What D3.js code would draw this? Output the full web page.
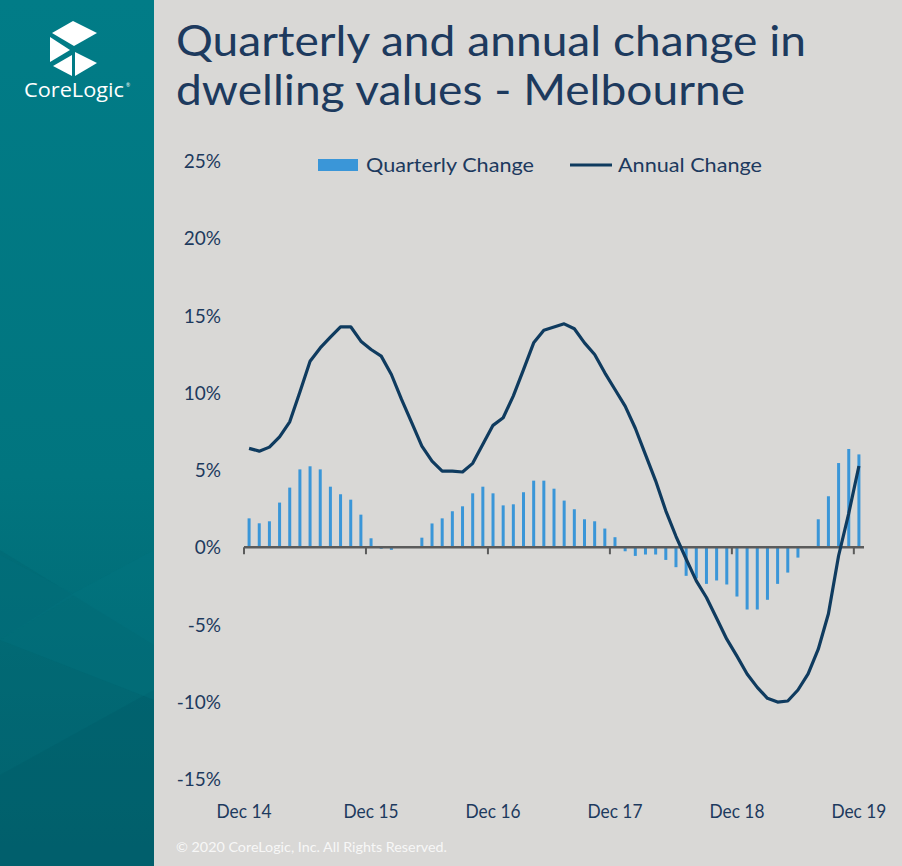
<!DOCTYPE html>
<html>
<head>
<meta charset="utf-8">
<script src="https://cdn.jsdelivr.net/npm/d3@7"></script>
<style>
  html, body { margin: 0; padding: 0; background: #d9d8d6; }
  svg { display: block; }
</style>
</head>
<body>
<svg id="chart" width="902" height="866"></svg>
<script>
// ---------- data ----------
const categories = d3.range(61).map(i => {
  const m = ["Dec","Jan","Feb","Mar","Apr","May","Jun","Jul","Aug","Sep","Oct","Nov"][i % 12];
  const y = 14 + Math.floor((i + 11) / 12);
  return m + " " + y;
});
const quarterlyChange = [
  1.87, 1.55, 1.68, 2.89, 3.86, 5.04, 5.24, 5.04, 3.92, 3.43, 3.08, 2.11,
  0.58, -0.10, -0.17, 0.02, 0.02, 0.62, 1.54, 1.87, 2.33, 2.65, 3.49, 3.92,
  3.49, 2.71, 2.78, 3.56, 4.31, 4.31, 3.79, 3.02, 2.46, 1.81, 1.68, 1.21,
  0.65, -0.26, -0.56, -0.47, -0.47, -0.82, -1.29, -1.85, -2.02, -2.37, -2.15, -2.41,
  -3.19, -4.03, -4.03, -3.40, -2.37, -1.64, -0.67, 0.03, 1.81, 3.30, 5.45, 6.36,
  6.01
];
const annualChange = [
  6.40, 6.22, 6.48, 7.15, 8.12, 10.05, 12.04, 12.90, 13.60, 14.27, 14.27, 13.34,
  12.80, 12.37, 11.18, 9.57, 8.06, 6.55, 5.58, 4.93, 4.93, 4.87, 5.43, 6.66,
  7.89, 8.38, 9.80, 11.50, 13.23, 14.05, 14.25, 14.46, 14.14, 13.23, 12.48, 11.29,
  10.21, 9.13, 7.70, 6.00, 4.30, 2.36, 0.71, -0.76, -2.18, -3.25, -4.60, -5.95,
  -7.05, -8.20, -9.07, -9.78, -10.02, -9.95, -9.24, -8.20, -6.60, -4.30, -0.55, 2.20,
  5.26
];
const yTicks = [25, 20, 15, 10, 5, 0, -5, -10, -15];
const xLabelIdx = [0, 12, 24, 36, 48, 60];
const xLabels = ["Dec 14", "Dec 15", "Dec 16", "Dec 17", "Dec 18", "Dec 19"];
const titleLines = ["Quarterly and annual change in", "dwelling values - Melbourne"];
const legendNames = ["Quarterly Change", "Annual Change"];

// ---------- setup ----------
const svg = d3.select("#chart");
const W = 902, H = 866;
const textBlue = "#1d3a5e";
const barColor = "#3a96d8";
const lineColor = "#0f3b5f";
const FONT = "Lato, 'Open Sans', sans-serif";

svg.append("rect").attr("width", W).attr("height", H).attr("fill", "#d9d8d6");

// left panel
const defs = svg.append("defs");
const lg = defs.append("linearGradient").attr("id", "panel").attr("x1", 0).attr("y1", 0).attr("x2", 0).attr("y2", 1);
lg.append("stop").attr("offset", "0%").attr("stop-color", "#017c87");
lg.append("stop").attr("offset", "55%").attr("stop-color", "#01757f");
lg.append("stop").attr("offset", "100%").attr("stop-color", "#02616d");
svg.append("rect").attr("x", 0).attr("y", 0).attr("width", 154).attr("height", H).attr("fill", "url(#panel)");
const facets = [
  {p: [[0,550],[154,645],[154,866],[0,866]], c: "#02656f", o: 0.35},
  {p: [[0,775],[154,690],[154,866],[0,866]], c: "#015c68", o: 0.4},
  {p: [[0,640],[70,595],[154,550],[154,700]], c: "#047884", o: 0.25},
  {p: [[0,555],[75,595],[0,640]], c: "#03717c", o: 0.4}
];
svg.selectAll("polygon.facet").data(facets).join("polygon")
  .attr("class", "facet")
  .attr("points", d => d.p.map(q => q.join(",")).join(" "))
  .attr("fill", d => d.c).attr("opacity", d => d.o);

// logo
const logo = svg.append("g").attr("fill", "#ffffff");
const logoShapes = [
  [[52,33],[73,21],[97,33],[74,46]],
  [[50,37],[50,62],[70,50]],
  [[75,52],[97,63],[75,76]],
  [[53,66],[72,55],[72,76]]
];
logo.selectAll("polygon").data(logoShapes).join("polygon")
  .attr("points", d => d.map(q => q.join(",")).join(" "));
logo.append("text").attr("x", 24).attr("y", 97)
  .attr("font-family", "'Open Sans', Lato, sans-serif").attr("font-size", 20)
  .attr("textLength", 100).attr("lengthAdjust", "spacingAndGlyphs")
  .text("CoreLogic");
logo.append("text").attr("x", 126).attr("y", 87).attr("font-size", 5)
  .attr("font-family", FONT).text("®");

// title
svg.selectAll("text.title").data(titleLines).join("text")
  .attr("class", "title")
  .attr("x", 176).attr("y", (d, i) => 56 + i * 49)
  .attr("font-family", FONT).attr("font-size", 43)
  .attr("fill", textBlue)
  .attr("textLength", (d, i) => i === 0 ? 630 : 569)
  .attr("lengthAdjust", "spacingAndGlyphs")
  .text(d => d);

// scales
const x = d3.scaleBand().domain(d3.range(categories.length)).range([244, 864]).paddingInner(0).paddingOuter(0);
const y = d3.scaleLinear().domain([-15, 25]).range([779, 161]);

// y labels
svg.selectAll("text.ytick").data(yTicks).join("text")
  .attr("class", "ytick")
  .attr("x", 221).attr("y", d => y(d) + 7)
  .attr("text-anchor", "end")
  .attr("font-family", FONT).attr("font-size", 19)
  .attr("fill", textBlue)
  .text(d => d + "%");

// bars
svg.append("g").selectAll("rect").data(quarterlyChange).join("rect")
  .attr("x", (d, i) => x(i) + x.bandwidth() / 2 - 1.5)
  .attr("width", 3)
  .attr("y", d => Math.min(y(d), y(0)))
  .attr("height", d => Math.abs(y(d) - y(0)))
  .attr("fill", barColor);

// x axis line & ticks
svg.append("line").attr("x1", 244).attr("x2", 864).attr("y1", y(0)).attr("y2", y(0))
  .attr("stroke", "#5b5b5b").attr("stroke-width", 2.5);
svg.selectAll("line.xtick").data(xLabelIdx).join("line")
  .attr("class", "xtick")
  .attr("x1", d => x(d)).attr("x2", d => x(d))
  .attr("y1", y(0)).attr("y2", y(0) + 7)
  .attr("stroke", "#5b5b5b").attr("stroke-width", 2);

// x labels
svg.selectAll("text.xlab").data(xLabelIdx).join("text")
  .attr("class", "xlab")
  .attr("x", (d, i) => x(d) + (i === 0 ? 0 : x.bandwidth() / 2))
  .attr("y", 818)
  .attr("text-anchor", "middle")
  .attr("font-family", FONT).attr("font-size", 19)
  .attr("textLength", 55).attr("lengthAdjust", "spacingAndGlyphs")
  .attr("fill", textBlue)
  .text((d, i) => xLabels[i]);

// annual line
const line = d3.line()
  .x((d, i) => x(i) + x.bandwidth() / 2)
  .y(d => y(d));
svg.append("path").datum(annualChange)
  .attr("d", line)
  .attr("fill", "none")
  .attr("stroke", lineColor)
  .attr("stroke-width", 3.2)
  .attr("stroke-linejoin", "round");

// legend
const leg = svg.append("g");
leg.append("rect").attr("x", 318).attr("y", 159).attr("width", 40).attr("height", 12).attr("fill", barColor);
leg.append("text").attr("x", 366).attr("y", 172)
  .attr("font-family", FONT).attr("font-size", 19).attr("fill", textBlue)
  .attr("textLength", 168).attr("lengthAdjust", "spacingAndGlyphs")
  .text(legendNames[0]);
leg.append("line").attr("x1", 570).attr("x2", 612).attr("y1", 165).attr("y2", 165)
  .attr("stroke", lineColor).attr("stroke-width", 3.2);
leg.append("text").attr("x", 618).attr("y", 172)
  .attr("font-family", FONT).attr("font-size", 19).attr("fill", textBlue)
  .attr("textLength", 144).attr("lengthAdjust", "spacingAndGlyphs")
  .text(legendNames[1]);

// footer
svg.append("text").attr("x", 176).attr("y", 852)
  .attr("font-family", FONT).attr("font-size", 13).attr("fill", "#f7f7f7")
  .attr("textLength", 271).attr("lengthAdjust", "spacingAndGlyphs")
  .text("© 2020 CoreLogic,  Inc. All Rights Reserved.");
</script>
</body>
</html>
